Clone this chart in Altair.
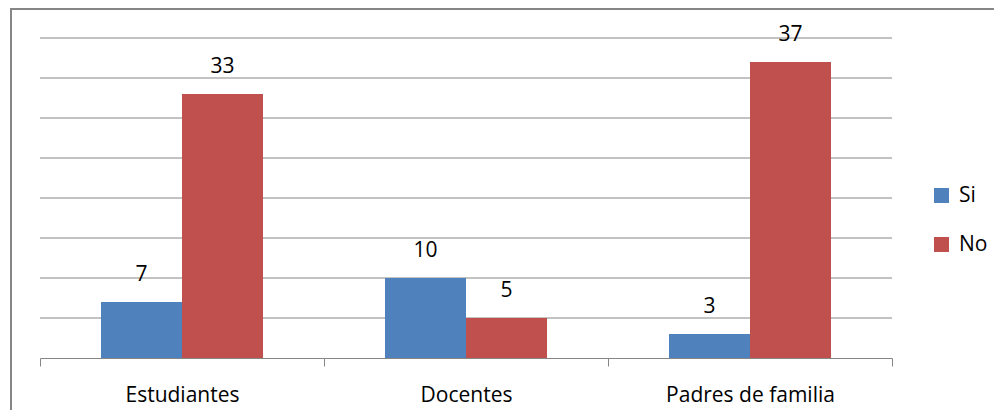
import altair as alt
import pandas as pd

categories = ["Estudiantes", "Docentes", "Padres de familia"]
series = ["Si", "No"]
si_values = [7, 10, 3]
no_values = [33, 5, 37]
colors = ["#4F81BD", "#C0504D"]
grid_values = [5, 10, 15, 20, 25, 30, 35, 40]

rows = []
for c, s, n in zip(categories, si_values, no_values):
    rows.append({"cat": c, "serie": "Si", "valor": s})
    rows.append({"cat": c, "serie": "No", "valor": n})
df = pd.DataFrame(rows)
grid_df = pd.DataFrame({"g": grid_values})

FONT = "Open Sans"
FS = 21
GRAY = "#868686"

x = alt.X("cat:N", sort=categories, title=None,
          scale=alt.Scale(paddingInner=0, paddingOuter=0),
          axis=alt.Axis(labelAngle=0, labelFontSize=FS, labelFont=FONT, labelColor="#000000",
                        domainColor=GRAY, tickColor=GRAY, tickSize=8, tickBand="extent",
                        labelPadding=18, grid=False))
xo = alt.XOffset("serie:N", sort=series, scale=alt.Scale(paddingInner=0, paddingOuter=0.753))
yscale = alt.Scale(domain=[0, 40], nice=False)
y = alt.Y("valor:Q", title=None, scale=yscale, axis=None)

grid = alt.Chart(grid_df).mark_rule(stroke=GRAY, strokeWidth=1).encode(
    y=alt.Y("g:Q", scale=yscale, axis=None),
    x=alt.value(0), x2=alt.value(852),
)

bars = alt.Chart(df).mark_bar().encode(
    x=x, xOffset=xo, y=y,
    color=alt.Color("serie:N", sort=series,
                    scale=alt.Scale(domain=series, range=colors),
                    legend=alt.Legend(title=None, orient="none", legendX=891, legendY=147,
                                      symbolType="square", symbolSize=225, symbolStrokeWidth=0,
                                      labelFontSize=FS, labelFont=FONT, labelColor="#000000",
                                      rowPadding=27, labelOffset=7)),
)

labels = alt.Chart(df).mark_text(dy=-27, fontSize=FS, font=FONT, color="#000000").encode(
    x=x, xOffset=xo, y=y, text="valor:Q",
)

frame_df = pd.DataFrame({"a": [0]})
left_edge = alt.Chart(frame_df).mark_rule(stroke=GRAY, strokeWidth=2).encode(
    x=alt.value(-29), y=alt.value(-30), y2=alt.value(372)
)
top_edge = alt.Chart(frame_df).mark_rule(stroke=GRAY, strokeWidth=2).encode(
    y=alt.value(-29), x=alt.value(-30), x2=alt.value(954)
)

chart = alt.layer(left_edge, top_edge, grid, bars, labels).properties(
    width=852, height=320,
    autosize=alt.AutoSizeParams(type="none"),
    padding={"left": 32, "top": 30, "right": 102, "bottom": 52},
).configure_view(stroke=None)

chart.save("out.html", embed_options={"renderer": "svg", "actions": False})
